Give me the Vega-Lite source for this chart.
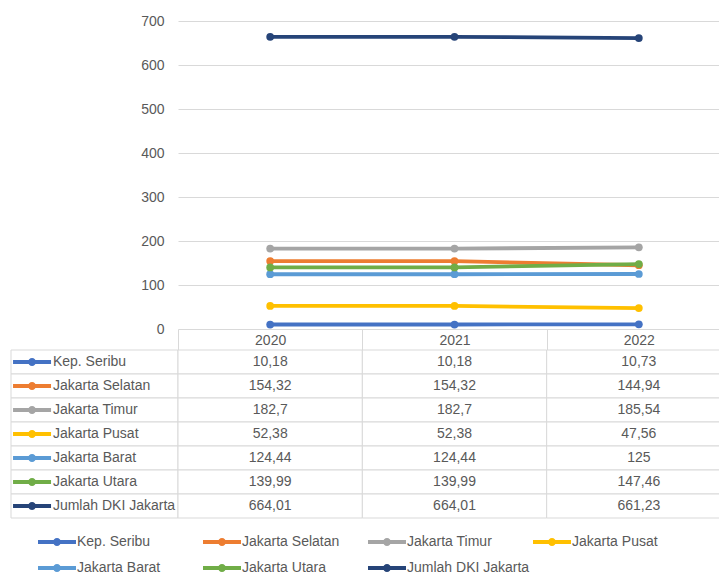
{
  "$schema": "https://vega.github.io/schema/vega-lite/v6.json",
  "padding": {"left": 10, "top": 14, "right": 0, "bottom": 4},
  "background": "white",
  "config": {
    "locale": {"number": {"decimal": ",", "thousands": ".", "grouping": [3], "currency": ["", ""]}},
    "view": {"stroke": null},
    "font": "Liberation Sans"
  },
  "data": {"values": [
    {"district": "Kep. Seribu", "year": "2020", "value": 10.18},
    {"district": "Kep. Seribu", "year": "2021", "value": 10.18},
    {"district": "Kep. Seribu", "year": "2022", "value": 10.73},
    {"district": "Jakarta Selatan", "year": "2020", "value": 154.32},
    {"district": "Jakarta Selatan", "year": "2021", "value": 154.32},
    {"district": "Jakarta Selatan", "year": "2022", "value": 144.94},
    {"district": "Jakarta Timur", "year": "2020", "value": 182.7},
    {"district": "Jakarta Timur", "year": "2021", "value": 182.7},
    {"district": "Jakarta Timur", "year": "2022", "value": 185.54},
    {"district": "Jakarta Pusat", "year": "2020", "value": 52.38},
    {"district": "Jakarta Pusat", "year": "2021", "value": 52.38},
    {"district": "Jakarta Pusat", "year": "2022", "value": 47.56},
    {"district": "Jakarta Barat", "year": "2020", "value": 124.44},
    {"district": "Jakarta Barat", "year": "2021", "value": 124.44},
    {"district": "Jakarta Barat", "year": "2022", "value": 125},
    {"district": "Jakarta Utara", "year": "2020", "value": 139.99},
    {"district": "Jakarta Utara", "year": "2021", "value": 139.99},
    {"district": "Jakarta Utara", "year": "2022", "value": 147.46},
    {"district": "Jumlah DKI Jakarta", "year": "2020", "value": 664.01},
    {"district": "Jumlah DKI Jakarta", "year": "2021", "value": 664.01},
    {"district": "Jumlah DKI Jakarta", "year": "2022", "value": 661.23}
  ]},
  "columns": 2,
  "bounds": "flush",
  "spacing": {"row": 21, "column": 0},
  "resolve": {"scale": {"x": "independent", "y": "independent", "color": "shared"}},
  "concat": [
    {
      "width": 167, "height": 308,
      "data": {"values": [{}]},
      "mark": {"type": "text"},
      "encoding": {"text": {"value": ""}}
    },
    {
      "width": 553, "height": 308,
      "encoding": {
        "x": {"field": "year", "type": "ordinal", "bandPosition": 0.5,
          "scale": {"type": "band", "paddingInner": 0, "paddingOuter": 0},
          "axis": {"orient": "bottom", "title": null, "domain": false, "ticks": true, "tickBand": "extent", "tickSize": 21, "tickColor": "#d9d9d9", "labelAngle": 0, "labelBaseline": "middle", "labelPadding": -10, "labelFontSize": 14, "labelColor": "#595959", "grid": false}},
        "y": {"field": "value", "type": "quantitative",
          "scale": {"domain": [0, 700]},
          "axis": {"values": [0, 100, 200, 300, 400, 500, 600, 700], "title": null, "domain": false, "ticks": false, "grid": true, "gridColor": "#d9d9d9", "labelPadding": 14, "labelFontSize": 14, "labelColor": "#595959"}},
        "color": {"field": "district", "type": "nominal",
          "scale": {"domain": ["Kep. Seribu", "Jakarta Selatan", "Jakarta Timur", "Jakarta Pusat", "Jakarta Barat", "Jakarta Utara", "Jumlah DKI Jakarta"],
                    "range": ["#4472C4", "#ED7D31", "#A5A5A5", "#FFC000", "#5B9BD5", "#70AD47", "#264478"]},
          "legend": {"orient": "none", "legendX": 27, "legendY": 502, "direction": "horizontal", "columns": 4, "gridAlign": "all", "columnPadding": 3, "rowPadding": -10, "title": null, "padding": 0,
            "symbolType": "M-1,-0.105H1V0.105H-1Z M0.21,0A0.21,0.21 0 1,1 -0.21,0A0.21,0.21 0 1,1 0.21,0Z",
            "symbolSize": 1444, "symbolStrokeWidth": 0, "symbolOpacity": 1, "labelFontSize": 14, "labelColor": "#595959", "labelOffset": 1, "labelLimit": 200,
            "encode": {"symbols": {"update": {"fill": {"scale": "color", "field": "value"}, "opacity": {"value": 1}}}}}}
      },
      "layer": [
        {"mark": {"type": "line", "strokeWidth": 3.8}},
        {"mark": {"type": "point", "filled": true, "size": 60, "opacity": 1}}
      ]
    },
    {
      "width": 167, "height": 168,
      "transform": [{"filter": "datum.year == '2020'"}],
      "encoding": {
        "y": {"field": "district", "type": "nominal", "axis": null,
          "scale": {"domain": ["Kep. Seribu", "Jakarta Selatan", "Jakarta Timur", "Jakarta Pusat", "Jakarta Barat", "Jakarta Utara", "Jumlah DKI Jakarta"], "paddingInner": 0, "paddingOuter": 0}}
      },
      "layer": [
        {"mark": {"type": "rect", "fill": "white", "stroke": "#d9d9d9", "strokeWidth": 1}},
        {"mark": {"type": "point", "filled": true, "opacity": 1, "size": 1444,
                  "shape": "M-1,-0.105H1V0.105H-1Z M0.21,0A0.21,0.21 0 1,1 -0.21,0A0.21,0.21 0 1,1 0.21,0Z"},
         "encoding": {
           "x": {"datum": 0.126, "type": "quantitative", "scale": {"domain": [0, 1]}, "axis": null},
           "color": {"field": "district", "type": "nominal",
             "scale": {"domain": ["Kep. Seribu", "Jakarta Selatan", "Jakarta Timur", "Jakarta Pusat", "Jakarta Barat", "Jakarta Utara", "Jumlah DKI Jakarta"],
                       "range": ["#4472C4", "#ED7D31", "#A5A5A5", "#FFC000", "#5B9BD5", "#70AD47", "#264478"]},
             "legend": {"orient": "none", "legendX": 27, "legendY": 502, "direction": "horizontal", "columns": 4, "gridAlign": "all", "columnPadding": 3, "rowPadding": -10, "title": null, "padding": 0,
               "symbolType": "M-1,-0.105H1V0.105H-1Z M0.21,0A0.21,0.21 0 1,1 -0.21,0A0.21,0.21 0 1,1 0.21,0Z",
               "symbolSize": 1444, "symbolStrokeWidth": 0, "symbolOpacity": 1, "labelFontSize": 14, "labelColor": "#595959", "labelOffset": 1, "labelLimit": 200,
               "encode": {"symbols": {"update": {"fill": {"scale": "color", "field": "value"}, "opacity": {"value": 1}}}}}}
         }},
        {"mark": {"type": "text", "align": "left", "baseline": "middle", "fontSize": 14, "color": "#595959"},
         "encoding": {
           "x": {"datum": 0.251, "type": "quantitative", "scale": {"domain": [0, 1]}, "axis": null},
           "text": {"field": "district"}
         }}
      ]
    },
    {
      "width": 553, "height": 168,
      "encoding": {
        "x": {"field": "year", "type": "ordinal", "axis": null,
          "scale": {"type": "band", "paddingInner": 0, "paddingOuter": 0}},
        "y": {"field": "district", "type": "nominal", "axis": null,
          "scale": {"domain": ["Kep. Seribu", "Jakarta Selatan", "Jakarta Timur", "Jakarta Pusat", "Jakarta Barat", "Jakarta Utara", "Jumlah DKI Jakarta"], "paddingInner": 0, "paddingOuter": 0}}
      },
      "layer": [
        {"mark": {"type": "rect", "fill": "white", "stroke": "#d9d9d9", "strokeWidth": 1}},
        {"mark": {"type": "text", "align": "center", "baseline": "middle", "fontSize": 14, "color": "#595959"},
         "encoding": {"text": {"field": "value", "type": "quantitative", "format": "~f"}}}
      ]
    }
  ]
}
